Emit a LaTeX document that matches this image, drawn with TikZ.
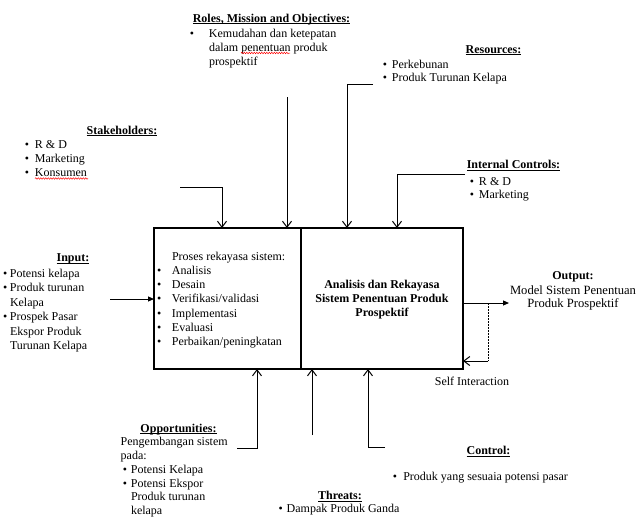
\documentclass[tikz,border=0pt]{standalone}
\usepackage{fontspec}
\setmainfont{Liberation Serif}
\usetikzlibrary{arrows.meta,decorations.pathmorphing}

% bullet lists with a fixed gap between bullet and text
\newlength\bulletgapwd
\newcommand\bitem[1]{\makebox[\bulletgapwd][l]{\textbullet}#1}
\newcommand\bcont[1]{\hspace*{\bulletgapwd}#1}
% fixed height of the first line of a block
\newcommand\firstln{\rule{0pt}{10pt}}
% underline at a fixed distance below the baseline
\newcommand\ulbf[1]{\setbox0=\hbox{#1}\rlap{\rule[-2pt]{\wd0}{0.75pt}}\box0}

\begin{document}
\begin{tikzpicture}[x=1pt,y=-1pt,
  every node/.style={inner sep=0pt,outer sep=0pt},
  bulletgap/.code={\global\bulletgapwd=#1\relax},
  lbl/.style={font=\fontsize{12}{14.5}\selectfont,align=left,anchor=north west},
  ttl/.style={font=\fontsize{12}{14.5}\selectfont\bfseries,anchor=base},
  boxpart/.style={draw,line width=2pt,minimum height=141pt,anchor=north west},
  wire/.style={line width=1pt},
  barb/.style={wire,-{Straight Barb[length=6pt,width=9pt]}},
  solidtip/.style={wire,-{Triangle[length=6pt,width=5pt]}},
  selfdash/.style={line width=0.8pt,dash pattern=on 1.5pt off 1.5pt},
  squiggle/.style={red,line width=0.5pt,decorate,decoration={snake,amplitude=0.7pt,segment length=2.5pt}}
]
\fill[white] (0,0) rectangle (641,517);
\path[use as bounding box] (0,0) rectangle (641,517);

% central process box
\node[boxpart,minimum width=147pt] (proc) at (154,228) {};
\node[boxpart,minimum width=162pt] (sys) at (301,228) {};

\node[lbl,bulletgap=14.8pt,font=\fontsize{12}{14.3}\selectfont] (lProc) at (157.2,250)
  {\firstln\bcont{Proses rekayasa sistem:}\\ \bitem{Analisis}\\ \bitem{Desain}\\
   \bitem{Verifikasi/validasi}\\ \bitem{Implementasi}\\ \bitem{Evaluasi}\\
   \bitem{Perbaikan/peningkatan}};
\node[font=\fontsize{12}{14.35}\selectfont\bfseries,align=center,anchor=north] (tSys) at (382,278)
  {\firstln Analisis dan Rekayasa\\ Sistem Penentuan Produk\\ Prospektif};

% roles, mission and objectives
\node[ttl] (tRoles) at (271.5,22) {\ulbf{Roles, Mission and Objectives:}};
\node[lbl,bulletgap=19.1pt,font=\fontsize{12}{13.75}\selectfont] (lRoles) at (189.9,27.5)
  {\firstln\bitem{Kemudahan dan ketepatan}\\ \bcont{dalam penentuan produk}\\ \bcont{prospektif}};
\draw[squiggle] (241,53) -- (290,53);

% resources
\node[ttl] (tRes) at (493.5,53) {\ulbf{Resources:}};
\node[lbl,bulletgap=9.1pt,font=\fontsize{12}{13.7}\selectfont] (lRes) at (382.9,58)
  {\firstln\bitem{Perkebunan}\\ \bitem{Produk Turunan Kelapa}};

% stakeholders
\node[ttl] (tStake) at (122,134) {\ulbf{Stakeholders:}};
\node[lbl,bulletgap=10.1pt,font=\fontsize{12}{14}\selectfont] (lStake) at (24.9,138.3)
  {\firstln\bitem{R \& D}\\ \bitem{Marketing}\\ \bitem{Konsumen}};
\draw[squiggle] (35,178.5) -- (88,178.5);

% internal controls
\node[ttl] (tInt) at (513.5,168.7) {\ulbf{Internal Controls:}};
\node[lbl,bulletgap=9.1pt,font=\fontsize{12}{13}\selectfont] (lInt) at (469.9,175)
  {\firstln\bitem{R \& D}\\ \bitem{Marketing}};

% input
\node[ttl] (tIn) at (73,261.3) {\ulbf{Input:}};
\node[lbl,bulletgap=6.8pt] (lIn) at (3.2,267.3)
  {\firstln\bitem{Potensi kelapa}\\ \bitem{Produk turunan}\\ \bcont{Kelapa}\\
   \bitem{Prospek Pasar}\\ \bcont{Ekspor Produk}\\ \bcont{Turunan Kelapa}};

% output
\node[ttl] (tOut) at (573,279) {Output:};
\node[font=\fontsize{12.6}{13.3}\selectfont,align=center,anchor=north] (lOut) at (573,284)
  {\firstln Model Sistem Penentuan\\ Produk Prospektif};
\node[font=\fontsize{12}{14}\selectfont,anchor=base] (tSelf) at (472,385) {Self Interaction};

% opportunities
\node[ttl] (tOpp) at (178.5,432) {\ulbf{Opportunities:}};
\node[lbl,bulletgap=8.1pt,font=\fontsize{12}{13.8}\selectfont] (lOpp) at (120.7,435.7)
  {\firstln Pengembangan sistem\\ pada:\\ \hspace*{2.2pt}\bitem{Potensi Kelapa}\\
   \hspace*{2.2pt}\bitem{Potensi Ekspor}\\ \hspace*{2.2pt}\bcont{Produk turunan}\\
   \hspace*{2.2pt}\bcont{kelapa}};

% threats
\node[ttl] (tThr) at (340,499.7) {\ulbf{Threats:}};
\node[lbl,bulletgap=8.1pt] (lThr) at (278.6,502.3) {\firstln\bitem{Dampak Produk Ganda}};

% control
\node[ttl] (tCtl) at (488.5,454.7) {\ulbf{Control:}};
\node[lbl,bulletgap=10.4pt] (lCtl) at (392.9,470) {\firstln\bitem{Produk yang sesuaia potensi pasar}};

% connector end points
\coordinate (sStake) at (180,187);
\coordinate (cStake) at (222,187);
\coordinate (sRoles) at (287,97);
\coordinate (sRes) at (373,84);
\coordinate (cRes) at (347,84);
\coordinate (sInt) at (465,174);
\coordinate (cInt) at (397,174);
\coordinate (sIn) at (110,299);
\coordinate (oEnd) at (509,303);
\coordinate (selfTop) at (488,303);
\coordinate (selfBot) at (488,361);
\coordinate (sOpp) at (237,448);
\coordinate (cOpp) at (257,448);
\coordinate (sThr) at (312,435);
\coordinate (sCtl) at (385,447);
\coordinate (cCtl) at (368,447);

% connectors into the top of the box
\draw[barb] (sStake) -- (cStake) -- (cStake |- proc.north);
\draw[barb] (sRoles) -- (sRoles |- proc.north);
\draw[barb] (sRes) -- (cRes) -- (cRes |- sys.north);
\draw[barb] (sInt) -- (cInt) -- (cInt |- sys.north);

% input and output
\draw[solidtip] (sIn) -- (sIn -| proc.west);
\draw[solidtip] (oEnd -| sys.east) -- (oEnd);
\draw[selfdash] (selfTop) -- (selfBot);
\draw[barb] (selfBot) -- (selfBot -| sys.east);

% connectors into the bottom of the box
\draw[barb] (sOpp) -- (cOpp) -- (cOpp |- proc.south);
\draw[barb] (sThr) -- (sThr |- sys.south);
\draw[barb] (sCtl) -- (cCtl) -- (cCtl |- sys.south);
\end{tikzpicture}
\end{document}
